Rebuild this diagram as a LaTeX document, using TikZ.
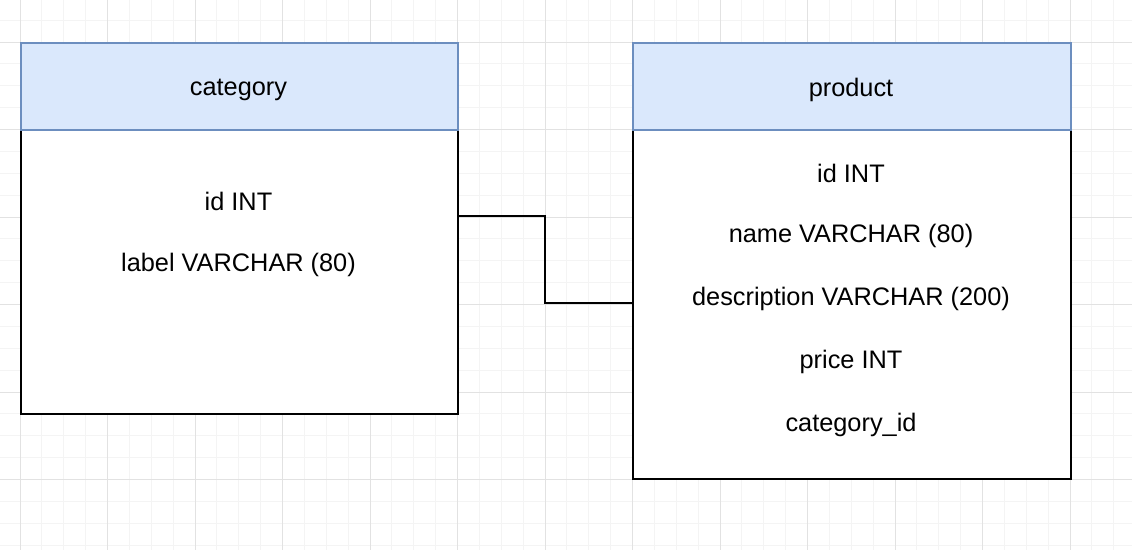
\documentclass[tikz,border=0pt]{standalone}
\usepackage{fontspec}
\setmainfont{Liberation Sans}
\begin{document}
\begin{tikzpicture}[x=0.75pt,y=-0.75pt,
  minorgrid/.style={draw={rgb,255:red,244;green,244;blue,244},line width=0.75pt},
  majorgrid/.style={draw={rgb,255:red,226;green,226;blue,226},line width=0.75pt},
  tbody/.style={draw=black,line width=1.6pt,fill=white,anchor=north west,inner sep=0pt},
  thead/.style={draw={rgb,255:red,108;green,142;blue,191},fill={rgb,255:red,218;green,232;blue,252},line width=1.6pt,anchor=north west,inner sep=0pt},
  field/.style={font=\fontsize{19}{22}\selectfont,inner sep=0pt,anchor=center,yshift=-2.25pt},
  conn/.style={draw=black,line width=1.6pt}]
\useasboundingbox (0,0) rectangle (1132,550);
\fill[white] (0,0) rectangle (1132,550);
% grid
\foreach \i in {-1,...,51}{\draw[minorgrid] ({20+\i*21.875},0) -- ({20+\i*21.875},550);}
\foreach \j in {-2,...,23}{\draw[minorgrid] (0,{42+\j*21.875}) -- (1132,{42+\j*21.875});}
\foreach \i in {0,...,12}{\draw[majorgrid] ({20+\i*87.5},0) -- ({20+\i*87.5},550);}
\foreach \j in {0,...,5}{\draw[majorgrid] (0,{42+\j*87.5}) -- (1132,{42+\j*87.5});}
% category table
\node[tbody,minimum width=437*0.75pt,minimum height=371*0.75pt] (catbody) at (20,42) {};
\node[thead,minimum width=437*0.75pt,minimum height=87*0.75pt] (cathead) at (20,42) {};
\node[field] (cattitle) at (238.5,87) {category};
\node[field] (catid) at (238.5,198) {id INT};
\node[field] (catlabel) at (238.5,262) {label VARCHAR (80)};
% product table
\node[tbody,minimum width=438*0.75pt,minimum height=436*0.75pt] (prodbody) at (632,42) {};
\node[thead,minimum width=438*0.75pt,minimum height=87*0.75pt] (prodhead) at (632,42) {};
\node[field] (prodtitle) at (851,87) {product};
\node[field] (prodid) at (851,170) {id INT};
\node[field] (prodname) at (851,233) {name VARCHAR (80)};
\node[field] (proddesc) at (851,296) {description VARCHAR (200)};
\node[field] (prodprice) at (851,359) {price INT};
\node[field] (prodcat) at (851,422) {category\_id};
% connector
\coordinate (ca) at (catbody.east |- 0,216);
\coordinate (cb) at (prodbody.west |- 0,303);
\draw[conn] (ca) -- (545,216) -- (545,303) -- (cb);
\end{tikzpicture}
\end{document}
